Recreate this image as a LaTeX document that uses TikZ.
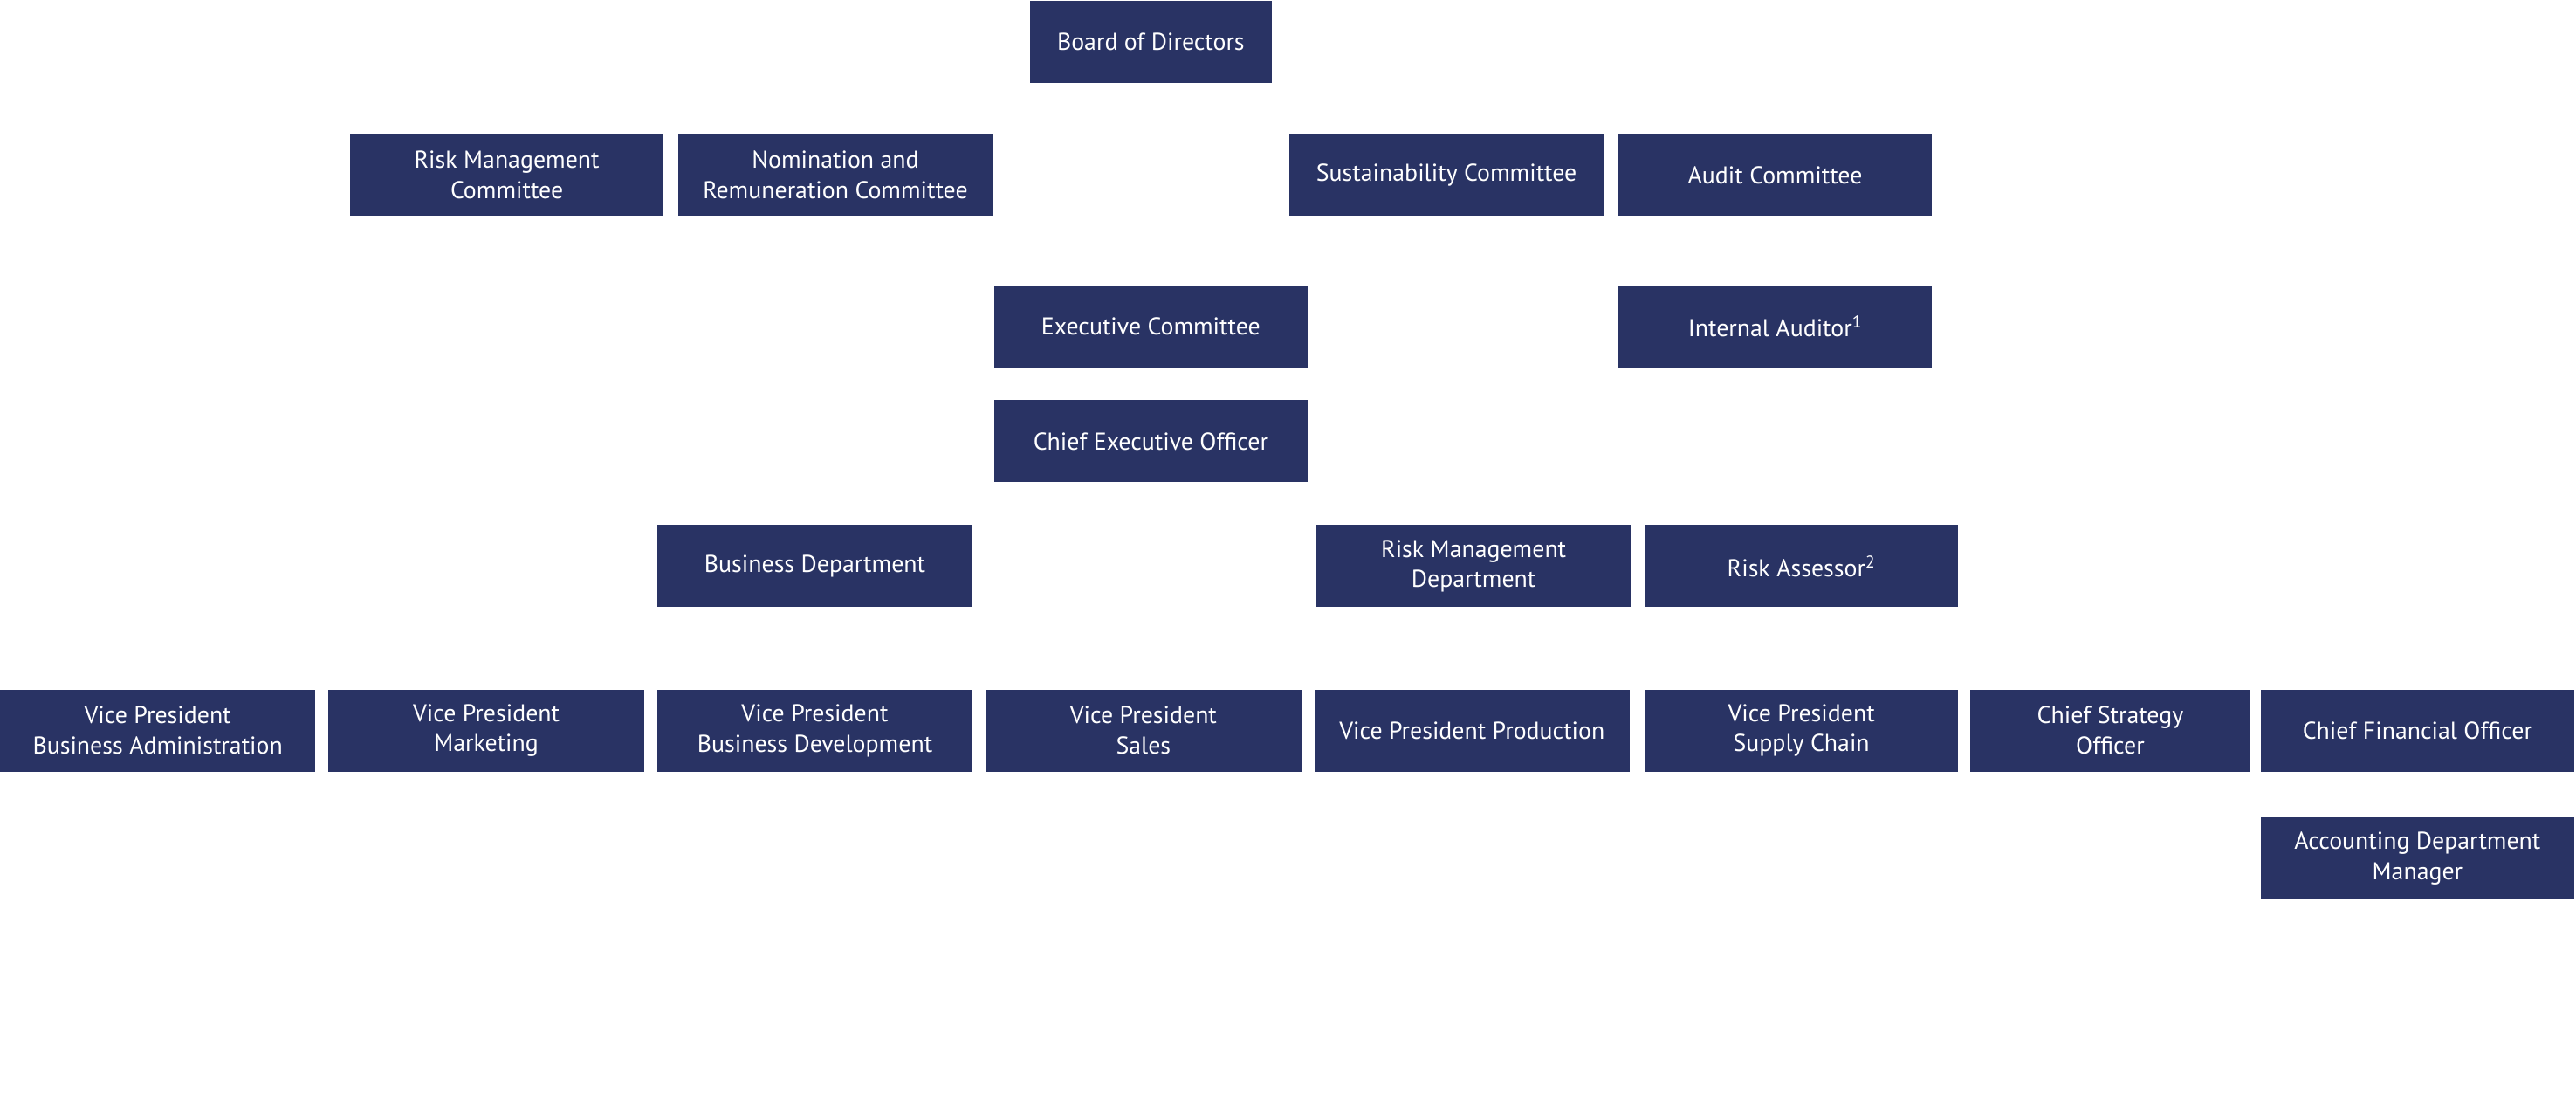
\documentclass[tikz,border=0pt]{standalone}
\usepackage{fontspec}
\setmainfont{PT Sans}
\definecolor{navy}{RGB}{41,51,100}
\tikzset{
  orgbox/.style={fill=navy, text=white, inner sep=0pt, minimum height=50pt,
    align=center, font=\fontsize{14.8}{18.5}\selectfont},
}
\begin{document}
\begin{tikzpicture}[x=1pt,y=-1pt]
\useasboundingbox[fill=white] (0,0) rectangle (1568,665.8);
\node[orgbox, minimum width=147pt] (bod) at (700.5,25.5) {Board of Directors};
\node[orgbox, minimum width=191pt] (rmc) at (308.5,106.5) {Risk Management\\Committee};
\node[orgbox, minimum width=191pt] (nrc) at (508.5,106.5) {Nomination and\\Remuneration Committee};
\node[orgbox, minimum width=191pt] (sc) at (880.5,106.5) {Sustainability Committee};
\node[orgbox, minimum width=191pt] (ac) at (1080.5,106.5) {Audit Committee};
\node[orgbox, minimum width=191pt] (ec) at (700.5,198.5) {Executive Committee};
\node[orgbox, minimum width=191pt] (ia) at (1080.5,198.5) {Internal Auditor\textsuperscript{1}};
\node[orgbox, minimum width=191pt] (ceo) at (700.5,268.5) {Chief Executive Officer};
\node[orgbox, minimum width=192pt] (bd) at (496,344.5) {Business Department};
\node[orgbox, minimum width=192pt] (rmd) at (897,344.5) {Risk Management\\Department};
\node[orgbox, minimum width=191pt] (ra) at (1096.5,344.5) {Risk Assessor\textsuperscript{2}};
\node[orgbox, minimum width=192pt] (vba) at (96,444.5) {Vice President\\Business Administration};
\node[orgbox, minimum width=192pt] (vm) at (296,444.5) {Vice President\\Marketing};
\node[orgbox, minimum width=192pt] (vbd) at (496,444.5) {Vice President\\Business Development};
\node[orgbox, minimum width=192pt] (vs) at (696,444.5) {Vice President\\Sales};
\node[orgbox, minimum width=192pt] (vpp) at (896,444.5) {Vice President Production};
\node[orgbox, minimum width=191pt] (vsc) at (1096.5,444.5) {Vice President\\Supply Chain};
\node[orgbox, minimum width=171pt] (cso) at (1284.5,444.5) {Chief Strategy\\Officer};
\node[orgbox, minimum width=191pt] (cfo) at (1471.5,444.5) {Chief Financial Officer};
\node[orgbox, minimum width=191pt] (adm) at (1471.5,522.5) {Accounting Department\\Manager};
\end{tikzpicture}
\end{document}
